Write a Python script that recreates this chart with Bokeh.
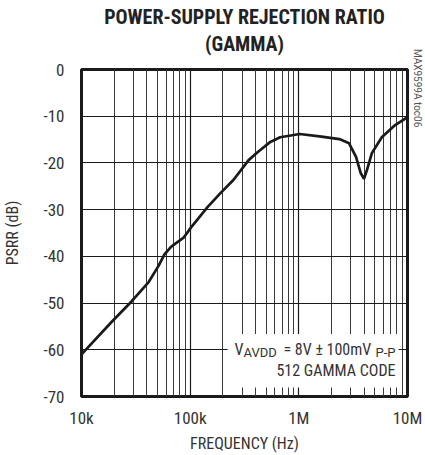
import numpy as np
from bokeh.plotting import figure
from bokeh.models import FixedTicker, Label, BoxAnnotation, Range1d, LinearAxis, LogAxis
from bokeh.embed import file_html
from bokeh.resources import INLINE

# data
freq_hz = [10e3, 19e3, 29e3, 41.5e3, 51e3, 58e3, 67e3, 87e3, 102e3, 145e3, 191e3,
           251e3, 345e3, 417e3, 547e3, 673e3, 1.02e6, 1.55e6, 2.36e6, 2.9e6, 3.36e6,
           3.7e6, 3.98e6, 4.24e6, 4.7e6, 5.8e6, 7.7e6, 10e6]
psrr_db = [-61, -54, -49.6, -45.5, -42.1, -39.6, -37.9, -36, -33.8, -29.4, -26.4,
           -23.6, -19.4, -17.7, -15.5, -14.5, -13.8, -14.3, -14.9, -15.8, -18.7,
           -22.1, -23.4, -21.5, -17.9, -14.5, -11.9, -10.2]
x_ticks = [1e4, 1e5, 1e6, 1e7]
x_tick_labels = ["10k", "100k", "1M", "10M"]
x_minor = [m * d for d in [1e4, 1e5, 1e6] for m in range(2, 10)]
y_ticks = [-70, -60, -50, -40, -30, -20, -10, 0]

FONT = "'Roboto Condensed', Roboto, sans-serif"
FONT_SUB = "Roboto, sans-serif"
TXT = "#333333"

p = figure(width=425, height=455, x_axis_type="log", output_backend="svg",
           toolbar_location=None, title="POWER-SUPPLY REJECTION RATIO",
           x_range=Range1d(1e4, 1e7), y_range=Range1d(-70, 0))
p.min_border_left = 79
p.min_border_right = 16
p.min_border_top = 69
p.min_border_bottom = 56
p.background_fill_color = "white"
p.border_fill_color = "white"
p.outline_line_color = "#1a1a1a"
p.outline_line_width = 3

p.title.align = "center"
p.title.text_font = FONT
p.title.text_font_size = "20px"
p.title.text_font_style = "bold"
p.title.text_color = "#222222"
p.title.standoff = 0
p.title.offset = 0

def has(obj, name):
    return name in obj.properties()

xa = p.below[0]
ya = p.left[0]

# extra axis above carrying the second title line
top_ax = LogAxis(ticker=FixedTicker(ticks=[]), axis_label="(GAMMA)")
top_ax.axis_line_color = None
top_ax.major_tick_line_color = None
top_ax.minor_tick_line_color = None
top_ax.major_tick_out = 0
top_ax.minor_tick_out = 0
top_ax.major_label_standoff = 0
top_ax.major_label_text_font_size = "0px"
top_ax.axis_label_standoff = 14
top_ax.axis_label_text_font = FONT
top_ax.axis_label_text_font_size = "20px"
top_ax.axis_label_text_font_style = "bold"
top_ax.axis_label_text_color = "#222222"
p.add_layout(top_ax, "above")

# extra axis right carrying the figure code
r_ax = LinearAxis(ticker=FixedTicker(ticks=[]),
                  axis_label="\u00a0" * 15 + "MAX9599A toc06")
r_ax.axis_line_color = None
r_ax.major_tick_line_color = None
r_ax.minor_tick_line_color = None
r_ax.major_tick_out = 0
r_ax.minor_tick_out = 0
r_ax.major_label_standoff = 0
r_ax.major_label_text_font_size = "0px"
r_ax.axis_label_standoff = 4
r_ax.axis_label_text_font = FONT_SUB
r_ax.axis_label_text_font_size = "10px"
r_ax.axis_label_text_font_style = "normal"
r_ax.axis_label_text_color = "#555555"
if has(r_ax, "axis_label_align"):
    r_ax.axis_label_align = "end"
p.add_layout(r_ax, "right")

# main axes
xa.ticker = FixedTicker(ticks=x_ticks, minor_ticks=x_minor)
xa.major_label_overrides = {t: l for t, l in zip(x_ticks, x_tick_labels)}
ya.ticker = FixedTicker(ticks=y_ticks)
ya.major_label_overrides = {t: str(t) for t in y_ticks}
for ax in (xa, ya):
    ax.axis_line_color = None
    ax.major_tick_line_color = None
    ax.minor_tick_line_color = None
    ax.major_tick_out = 0
    ax.major_tick_in = 0
    ax.minor_tick_out = 0
    ax.minor_tick_in = 0
    ax.major_label_text_font = FONT
    ax.major_label_text_font_size = "17px"
    ax.major_label_text_color = TXT
    ax.axis_label_text_font = FONT
    ax.axis_label_text_font_size = "16px"
    ax.axis_label_text_font_style = "normal"
    ax.axis_label_text_color = TXT
xa.axis_label = "FREQUENCY (Hz)"
ya.axis_label = "PSRR (dB)"
xa.major_label_standoff = 11
xa.axis_label_standoff = 3
ya.major_label_standoff = 17
ya.axis_label_standoff = 18

# grid
p.xgrid.ticker = FixedTicker(ticks=x_ticks, minor_ticks=x_minor)
p.xgrid.grid_line_color = "#1a1a1a"
p.xgrid.grid_line_width = 1.2
p.xgrid.minor_grid_line_color = "#3a3a3a"
p.xgrid.minor_grid_line_width = 1
p.ygrid.ticker = FixedTicker(ticks=y_ticks)
p.ygrid.grid_line_color = "#1a1a1a"
p.ygrid.grid_line_width = 1.2

# curve
p.line(freq_hz, psrr_db, line_color="#1a1a1a", line_width=2.7)

# annotation box
p.add_layout(BoxAnnotation(left=2.21e5, right=8.28e6, top=-56.6, bottom=-68.1,
                           fill_color="white", fill_alpha=1.0, line_color=None,
                           level="overlay"))

def lab(text, xo, y, yo=0, size="16px", align="left", font=FONT):
    p.add_layout(Label(x=1e7, y=y, x_offset=xo, y_offset=yo, text=text,
                       text_font=font, text_font_size=size, text_color=TXT,
                       text_align=align, text_baseline="middle", level="overlay"))

lab("V", -173, -60.0)
lab("AVDD", -164, -60.0, yo=-3, size="13px", font=FONT_SUB)
lab("= 8V \u00b1 100mV", -124, -60.0)
lab("P-P", -32, -60.0, yo=-3, size="13px", font=FONT_SUB)
lab("512 GAMMA CODE", -12, -64.5, align="right")

open("out.html", "w").write(file_html(p, INLINE))
